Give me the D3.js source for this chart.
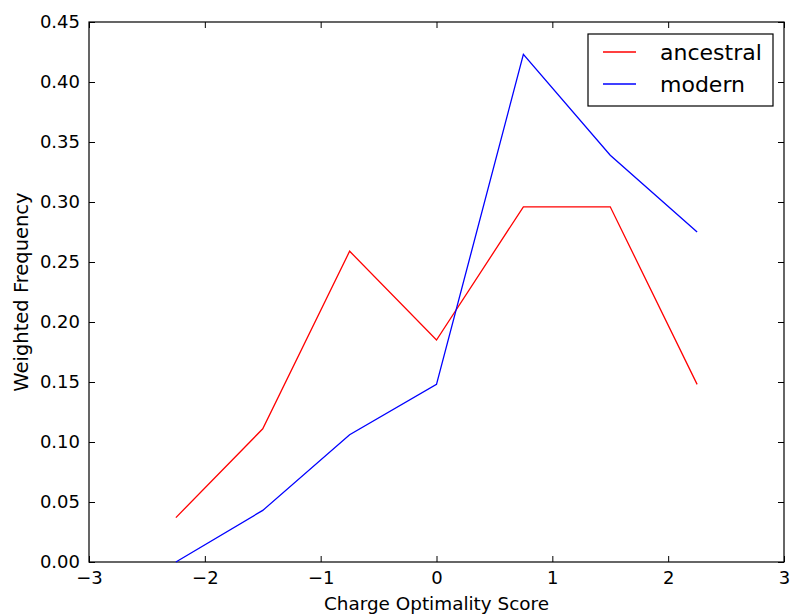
<!DOCTYPE html>
<html>
<head>
<meta charset="utf-8">
<script src="https://cdn.jsdelivr.net/npm/d3@7"></script>
<style>
  body { margin: 0; background: #fff; }
  text { font-family: "DejaVu Sans", sans-serif; fill: #000; }
</style>
</head>
<body>
<div id="chart"></div>
<script>

var scores = [-2.25, -1.5, -0.75, 0, 0.75, 1.5, 2.25];
var ancestral = [0.037, 0.111, 0.259, 0.185, 0.296, 0.296, 0.148];
var modern = [0.0, 0.043, 0.106, 0.148, 0.423, 0.339, 0.275];
var xTicks = [-3, -2, -1, 0, 1, 2, 3];
var yTicks = [0, 0.05, 0.10, 0.15, 0.20, 0.25, 0.30, 0.35, 0.40, 0.45];
var seriesNames = ["ancestral", "modern"];
var seriesColors = ["#ff0000", "#0000ff"];

var width = 790, height = 616;
var margin = {top: 22, right: 6, bottom: 54, left: 89};
var w = width - margin.left - margin.right;
var h = height - margin.top - margin.bottom;

var svg = d3.select("#chart").append("svg")
    .attr("width", width)
    .attr("height", height)
  .append("g")
    .attr("transform", "translate(" + margin.left + "," + margin.top + ")");

var x = d3.scaleLinear().domain([-3, 3]).range([0, w]);
var y = d3.scaleLinear().domain([0, 0.45]).range([h, 0]);

var fmtX = function(d) { return d < 0 ? "\u2212" + Math.abs(d) : d; };

// bottom / left axes with inward ticks
var xAxis = svg.append("g")
    .attr("transform", "translate(0," + h + ")")
    .call(d3.axisBottom(x).tickValues(xTicks).tickSizeInner(-6).tickSizeOuter(0).tickPadding(9).tickFormat(fmtX));
var yAxis = svg.append("g")
    .call(d3.axisLeft(y).tickValues(yTicks).tickSizeInner(-6).tickSizeOuter(0).tickPadding(9).tickFormat(d3.format(".2f")));
var xTop = svg.append("g")
    .call(d3.axisTop(x).tickValues(xTicks).tickSizeInner(-6).tickSizeOuter(0).tickFormat(""));
var yRight = svg.append("g")
    .attr("transform", "translate(" + w + ",0)")
    .call(d3.axisRight(y).tickValues(yTicks).tickSizeInner(-6).tickSizeOuter(0).tickFormat(""));

[xAxis, yAxis, xTop, yRight].forEach(function(a) {
  a.select(".domain").remove();
  a.selectAll("line").attr("stroke", "#000").attr("stroke-width", 1);
  a.selectAll("text").attr("font-size", 18).style("font-family", "DejaVu Sans, sans-serif").attr("fill", "#000");
});

svg.append("rect")
    .attr("x", 0).attr("y", 0)
    .attr("width", w).attr("height", h)
    .attr("fill", "none")
    .attr("stroke", "#000")
    .attr("stroke-width", 1.2);

var line = d3.line()
    .x(function(d) { return x(d[0]); })
    .y(function(d) { return y(d[1]); });

[ancestral, modern].forEach(function(vals, i) {
  svg.append("path")
      .datum(scores.map(function(s, j) { return [s, vals[j]]; }))
      .attr("d", line)
      .attr("fill", "none")
      .attr("stroke", seriesColors[i])
      .attr("stroke-width", 1.3);
});

// axis labels
svg.append("text")
    .attr("x", w / 2)
    .attr("y", h + 48)
    .attr("text-anchor", "middle")
    .attr("font-size", 18.4)
    .text("Charge Optimality Score");

svg.append("text")
    .attr("transform", "rotate(-90)")
    .attr("x", -h / 2)
    .attr("y", -61)
    .attr("text-anchor", "middle")
    .attr("font-size", 19.5)
    .text("Weighted Frequency");

// legend
var legend = svg.append("g")
    .attr("transform", "translate(" + (588 - margin.left) + "," + (34 - margin.top) + ")");
legend.append("rect")
    .attr("width", 185)
    .attr("height", 72)
    .attr("fill", "#fff")
    .attr("stroke", "#000")
    .attr("stroke-width", 1.2);
seriesNames.forEach(function(name, i) {
  legend.append("line")
      .attr("x1", 15).attr("x2", 48)
      .attr("y1", 18 + i * 32).attr("y2", 18 + i * 32)
      .attr("stroke", seriesColors[i])
      .attr("stroke-width", 1.3);
  legend.append("text")
      .attr("x", 72)
      .attr("y", 18 + i * 32 + 7.5)
      .attr("font-size", 22)
      .text(name);
});

</script>
</body>
</html>
